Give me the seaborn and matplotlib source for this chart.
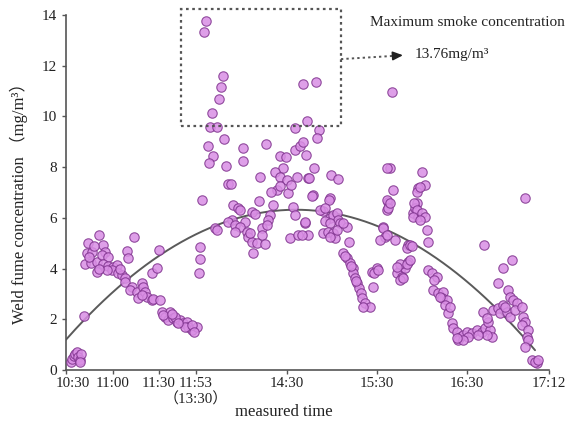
import numpy as np
import pandas as pd
import matplotlib
matplotlib.use("Agg")
import matplotlib.pyplot as plt
import matplotlib.transforms as mtrans
import seaborn as sns
from matplotlib.patches import Rectangle

# ---------------- data ----------------
# x: working minutes after 10:30 (lunch break 11:53-13:30 removed, axis units)
# y: weld fume concentration (mg/m3)
morning_x = [3, 4, 5, 6, 7, 8, 9, 10, 9,
             12.2, 14.9, 22.2, 13.8, 17.1, 12.7, 16.7, 20.4, 20.4, 24.9, 26.0, 23.8, 28.2, 24.9, 28.2,
             31.6, 33.8, 30.4, 34.9, 37.1, 39.3, 39.3, 27.1, 45.3, 40.4, 41.6, 43.8, 42.7, 47.1, 50.4,
             51.6, 48.2, 52.7, 53.8, 57.1, 58.2, 62.7, 50.9, 57.1, 60.4, 62.0, 18.5, 15.5, 22.0, 36.0,
             63.8, 66.0, 69.3, 68.2, 71.6, 73.8, 76.0, 78.2, 80.4, 81.6, 83.8, 87.1, 79.3, 72.7, 64.9,
             83.8, 75.0, 70.5, 85.5]
morning_y = [0.30, 0.42, 0.55, 0.62, 0.70, 0.50, 0.38, 0.65, 0.30,
             2.14, 5.02, 5.32, 4.63, 4.67, 4.20, 4.23, 4.27, 3.88, 4.93, 4.67, 4.53, 4.47, 4.20, 4.10,
             4.07, 4.14, 3.94, 3.81, 3.75, 3.61, 3.48, 3.94, 5.23, 4.70, 4.40, 3.29, 3.15, 3.09, 3.42,
             3.29, 2.83, 3.09, 2.89, 2.76, 2.82, 2.76, 2.95, 3.81, 4.01, 4.73, 4.90, 4.45, 4.00, 4.00,
             2.30, 2.10, 2.30, 1.97, 2.04, 1.90, 1.97, 1.84, 1.90, 1.71, 1.58, 1.68, 1.71, 2.10, 2.17,
             1.77, 1.85, 2.20, 1.50]

afternoon_x = [89.3, 89.3, 88.8, 90.4,
               93.3, 92.2, 104.4, 103.3, 102.2, 97.1, 96.0, 100.9, 158.2, 166.4, 160.4, 152.7, 168.7,
               167.6, 217.1,
               105.6, 94.4, 98.2, 95.6, 117.8, 118.2, 106.7, 133.3, 142.7, 146.7, 152.7, 156.0, 157.8,
               160.0, 144.9, 139.3, 142.7, 147.1, 154.2, 161.6, 129.3, 108.2, 110.0, 140.4, 136.4, 148.2,
               111.1, 114.9, 128.9, 138.2, 151.6, 123.8, 126.0, 136.0, 134.9, 110.4, 108.2, 112.7, 119.3,
               116.0, 120.4, 112.7, 121.6, 130.4, 133.8, 130.4, 123.8, 127.1, 132.7, 124.9, 99.3, 100.5,
               149.3, 154.9, 159.3, 161.6, 152.7, 157.1, 159.3, 165.6, 162.2, 176.4, 181.6, 164.9, 176.0,
               163.8, 175.5, 171.6, 169.3, 172.7, 175.9, 178.2, 180.4, 181.6, 182.7, 187.1, 172.7, 176.0,
               171.6, 174.9, 178.2, 179.3, 176.0, 188.9, 180.4, 184.9, 116.0, 122.7, 143.0, 150.0,
               184.9, 187.1, 189.3, 191.1, 191.6, 192.7, 194.2, 195.6, 196.7, 197.6, 199.3, 202.7, 198.2,
               186.0, 190.0, 193.5,
               203.8, 207.1, 205.3, 208.2, 204.9,
               211.6, 212.7, 209.3, 219.3, 214.2, 214.9, 213.8, 214.9, 216.0, 211.6, 213.8, 216.0, 218.2,
               213.8,
               222.7, 220.4, 223.8, 222.7, 228.2, 226.0, 224.9, 228.2, 227.1, 222.7, 220.4, 227.1, 229.3,
               233.8, 231.6, 234.9, 232.7, 237.6, 239.3, 234.9, 233.8, 236.0, 232.0, 233.8, 231.6, 237.1,
               239.3, 236.0, 240.4, 241.6, 230.4, 229.3, 241.6, 243.8, 247.1, 245.3, 245.0, 248.2, 251.6,
               250.4, 253.8, 252.7, 254.9, 256.0, 249.3,
               257.1, 258.2, 260.4, 262.7, 261.6, 264.9, 267.1, 270.4, 273.8, 277.1, 279.3, 282.7, 283.8,
               280.4, 274.9, 268.2, 264.9, 260.4, 281.6, 278.2, 280.4, 278.7,
               284.9, 288.2, 291.6, 289.3, 293.8, 296.0, 292.7, 288.2, 291.6, 297.1, 294.9, 296.0, 298.2,
               300.4, 299.3, 303.8, 304.9, 306.0, 303.8, 308.2, 307.1, 308.2, 306.0, 306.0, 310.4, 313.8,
               312.7, 314.9]
afternoon_y = [4.86, 4.36, 3.84, 6.70,
               13.76, 13.34, 11.60, 11.17, 10.70, 10.12, 9.60, 9.57, 11.26, 11.37, 9.83, 9.53, 9.46,
               9.13, 10.97,
               9.10, 8.83, 8.44, 8.18, 8.74, 8.24, 8.04, 8.90, 8.44, 8.41, 8.68, 8.85, 8.98,
               8.48, 7.98, 7.82, 7.62, 7.49, 7.62, 7.56, 7.62, 7.32, 7.35, 7.10, 7.03, 7.00,
               6.51, 6.40, 6.66, 6.51, 6.44, 6.24, 6.14, 6.11, 5.91, 5.91, 5.85, 5.72, 5.85,
               5.65, 5.45, 5.45, 5.26, 5.59, 5.72, 5.32, 5.06, 4.99, 4.95, 4.60, 5.59, 5.52,
               5.19, 5.32, 5.78, 5.32, 6.11, 5.32, 5.82, 7.95, 7.56, 7.69, 7.53, 6.90, 6.77,
               6.86, 6.70, 6.28, 6.31, 6.37, 5.98, 6.11, 6.18, 5.91, 5.78, 5.65, 5.89, 5.78,
               5.39, 5.45, 5.39, 5.19, 5.26, 5.06, 5.52, 5.78, 6.30, 5.40, 7.25, 7.30,
               4.60, 4.40, 4.23, 4.01, 3.81, 3.61, 3.42, 3.22, 3.02, 2.83, 2.63, 2.50, 2.47,
               4.50, 4.10, 3.50,
               3.88, 4.01, 3.81, 3.94, 3.29,
               5.62, 5.26, 5.13, 5.13, 6.31, 6.61, 6.70, 6.37, 6.57, 5.59, 5.32, 7.95, 7.10,
               7.95,
               3.94, 3.81, 3.68, 3.55, 4.27, 4.01, 3.61, 4.93, 4.80, 4.20, 4.07, 4.20, 4.93,
               6.57, 6.18, 6.04, 6.37, 7.82, 7.30, 7.16, 7.03, 7.23, 6.57, 6.31, 6.04, 6.18,
               6.02, 5.91, 5.52, 5.06, 4.89, 4.34, 3.94, 3.81, 3.68, 3.55, 3.15, 3.02, 3.09,
               2.83, 2.76, 2.56, 2.24, 2.50, 2.89,
               1.84, 1.64, 1.51, 1.31, 1.18, 1.38, 1.51, 1.45, 1.58, 1.51, 1.64, 1.58, 1.31,
               1.38, 1.38, 1.31, 1.18, 1.25, 1.90, 2.30, 2.04, 4.93,
               2.37, 2.43, 2.56, 2.24, 2.30, 2.10, 2.50, 3.42, 4.01, 4.34, 3.15, 2.89, 2.76,
               2.63, 2.37, 2.50, 2.10, 1.90, 1.77, 1.58, 1.31, 1.18, 0.92, 6.77, 0.39, 0.28,
               0.30, 0.40]

# quadratic fit y = a*x^2 + b*x + c
fit_coeffs = [-2.18e-4, 0.06684, 1.197]
fit_range = [0.0, 312.7]

tick_pos = [0, 31.3, 62, 86.7, 147.3, 207.3, 267.3, 322]
tick_labels = ["10:30", "11:00", "11:30", "11:53", "14:30", "15:30", "16:30", "17:12"]
break_label = "（13:30）"
y_ticks = [0, 2, 4, 6, 8, 10, 12, 14]

max_value = 13.76

# ---------------- plot ----------------
sns.set_theme(style="white")
fams = ["Liberation Serif", "Noto Sans CJK SC", "DejaVu Sans"]
plt.rcParams["font.family"] = fams

fig = plt.figure(figsize=(5.81, 4.21), dpi=100)
ax = fig.add_axes([0.1136, 0.1211, 0.8313, 0.8433])

df = pd.DataFrame({"t": morning_x + afternoon_x, "c": morning_y + afternoon_y})
sns.scatterplot(data=df, x="t", y="c", ax=ax, s=46, color="#d98ee4",
                edgecolor="#80348f", linewidth=0.8, alpha=0.85, zorder=3)

xf = np.linspace(fit_range[0], fit_range[1], 200)
yf = np.polyval(fit_coeffs, xf)
sns.lineplot(x=xf, y=yf, ax=ax, color="#5a5a5a", linewidth=1.4, zorder=2)

ax.set_xlim(0, 322)
ax.set_ylim(0, 14)
ax.set_xticks(tick_pos)
ax.set_xticklabels(tick_labels, fontsize=10.8)
ax.set_yticks(y_ticks)
ax.set_yticklabels([str(v) for v in y_ticks], fontsize=11)
ax.tick_params(axis="both", direction="out", length=3, width=1.0, color="#555555",
               labelcolor="#222222")
ax.tick_params(axis="x", bottom=True, pad=2.0)
ax.tick_params(axis="y", left=True, pad=3.5)

# first x tick label sits slightly right of its tick, clear of the y axis
first = ax.get_xticklabels()[0]
first.set_transform(first.get_transform() +
                    mtrans.ScaledTranslation(7 / 100, 0, fig.dpi_scale_trans))

# second line under the 11:53 tick (afternoon restart time)
ax.text(tick_pos[3], -0.063, break_label, transform=ax.get_xaxis_transform(),
        ha="center", va="top", fontsize=10.8, color="#222222")

for side in ["top", "right"]:
    ax.spines[side].set_visible(False)
for side in ["left", "bottom"]:
    ax.spines[side].set_color("#555555")
    ax.spines[side].set_linewidth(1.2)

ax.set_xlabel("measured time", fontsize=12, color="#222222")
ax.xaxis.set_label_coords(0.45, -0.095)
ax.set_ylabel("Weld fume concentration （mg/m³）", fontsize=12, color="#222222")
ax.yaxis.set_label_coords(-0.078, 0.48)

# dotted box around the peak values
rect = Rectangle((76.7, 9.62), 106.6, 4.61, fill=False, linestyle=(0, (1.2, 1.6)),
                 edgecolor="#555555", linewidth=1.6, clip_on=False, zorder=4)
ax.add_patch(rect)
ax.plot([183.3, 222], [12.26, 12.40], linestyle=(0, (1.2, 1.6)), color="#555555",
        linewidth=1.4, clip_on=False)
ax.annotate("", xy=(226.5, 12.42), xytext=(219, 12.39),
            arrowprops=dict(arrowstyle="-|>,head_length=0.5,head_width=0.22",
                            color="#222222", lw=1.2), annotation_clip=False)
ax.text(267.3, 13.72, "Maximum smoke concentration", fontsize=11, ha="center",
        va="center", color="#222222")
ax.text(232.5, 12.45, f"{max_value}mg/m³", fontsize=11, ha="left", va="center",
        color="#222222")

fig.savefig("out.png", dpi=100)
